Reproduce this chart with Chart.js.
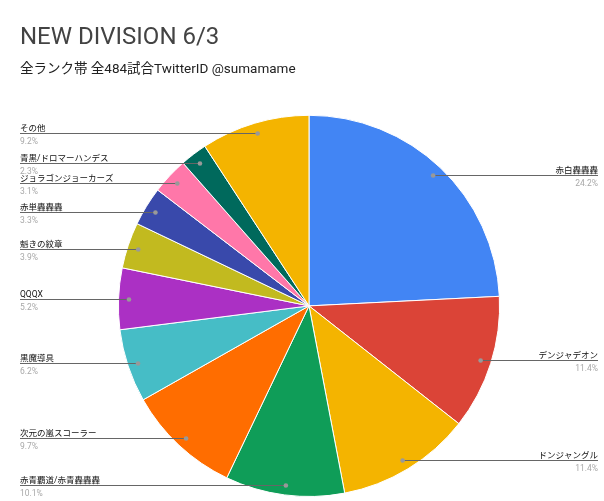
<!DOCTYPE html>
<html>
<head>
<meta charset="utf-8">
<script src="https://cdn.jsdelivr.net/npm/chart.js@4/dist/chart.umd.min.js"></script>
<style>
  html, body { margin: 0; padding: 0; background: #fff; }
  #wrap { width: 604px; height: 501px; }
</style>
</head>
<body>
<div id="wrap"><canvas id="pieChart" width="604" height="501"></canvas></div>
<script>
// deck names and share (%) of 484 matches
const deckNames = [
    '赤白轟轟轟',
    'デンジャデオン',
    'ドンジャングル',
    '赤青覇道/赤青轟轟轟',
    '次元の嵐スコーラー',
    '黒魔導具',
    'QQQX',
    '魁きの紋章',
    '赤単轟轟轟',
    'ジョラゴンジョーカーズ',
    '青黒/ドロマーハンデス',
    'その他'
];
const deckShares = [24.2, 11.4, 11.4, 10.1, 9.7, 6.2, 5.2, 3.9, 3.3, 3.1, 2.3, 9.2];
const sliceColors = [
    '#4285F4', '#DB4437', '#F4B400', '#0F9D58', '#FF6D00', '#46BDC6',
    '#AB30C4', '#C2BA1F', '#3949AB', '#FF77A9', '#00695C', '#F4B400'
];

const FONT = 'Roboto, "Noto Sans CJK JP", sans-serif';

// draws the callout lines + labels like google sheets does
const calloutLabels = {
    id: 'calloutLabels',
    afterDatasetsDraw(chart) {
        const ctx = chart.ctx;
        const meta = chart.getDatasetMeta(0);
        const leftX = 20, rightX = 598;
        ctx.save();
        meta.data.forEach((arc, i) => {
            const p = arc.getProps(['x', 'y', 'startAngle', 'endAngle', 'outerRadius'], true);
            const mid = (p.startAngle + p.endAngle) / 2;
            const r = p.outerRadius * 0.945;
            const dx = p.x + Math.cos(mid) * r;
            const dy = Math.round(p.y + Math.sin(mid) * r) + 0.5;
            const onRight = Math.cos(mid) >= 0;
            const edge = onRight ? rightX : leftX;

            ctx.strokeStyle = '#666666';
            ctx.lineWidth = 1.2;
            ctx.beginPath();
            ctx.moveTo(dx, dy);
            ctx.lineTo(edge, dy);
            ctx.stroke();

            ctx.fillStyle = '#999999';
            ctx.beginPath();
            ctx.arc(dx, dy, 2.3, 0, Math.PI * 2);
            ctx.fill();

            ctx.textAlign = onRight ? 'right' : 'left';
            ctx.textBaseline = 'alphabetic';
            ctx.fillStyle = '#111111';
            ctx.font = '8.5px ' + FONT;
            ctx.fillText(deckNames[i], edge, dy - 3);
            ctx.fillStyle = '#a8a8a8';
            ctx.font = '8.5px ' + FONT;
            ctx.fillText(deckShares[i].toFixed(1) + '%', edge, dy + 10);
        });
        ctx.restore();
    }
};

const ctx = document.getElementById('pieChart').getContext('2d');
new Chart(ctx, {
    type: 'pie',
    data: {
        labels: deckNames,
        datasets: [{
            data: deckShares,
            backgroundColor: sliceColors,
            borderColor: '#ffffff',
            borderWidth: 1
        }]
    },
    options: {
        responsive: false,
        animation: false,
        layout: { padding: { left: 20, right: 6, top: 0, bottom: 4 } },
        plugins: {
            legend: { display: false },
            tooltip: { enabled: false },
            title: {
                display: true,
                text: 'NEW DIVISION 6/3',
                align: 'start',
                color: '#434343',
                font: { family: FONT, size: 24, weight: 'normal', lineHeight: 1.2 },
                padding: { top: 24, bottom: 0 }
            },
            subtitle: {
                display: true,
                text: '全ランク帯 全484試合TwitterID @sumamame',
                align: 'start',
                color: '#222222',
                font: { family: FONT, size: 13.5, weight: 'normal', lineHeight: 1.2 },
                padding: { top: 9, bottom: 36.8 }
            }
        }
    },
    plugins: [calloutLabels]
});
</script>
</body>
</html>
